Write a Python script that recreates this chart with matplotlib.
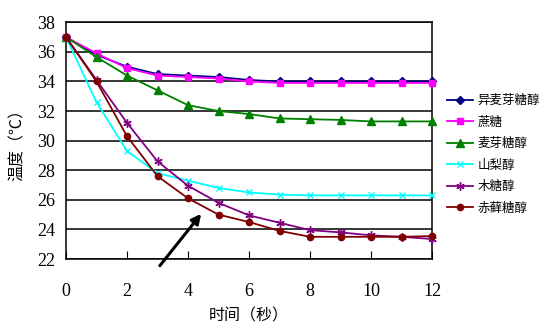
import numpy as np
import matplotlib.pyplot as plt

plt.rcParams['font.family'] = ['Liberation Serif', 'Noto Sans CJK SC']

# data
t = [0, 1, 2, 3, 4, 5, 6, 7, 8, 9, 10, 11, 12]
isomalt = [37, 35.8, 35.0, 34.5, 34.4, 34.3, 34.1, 34.0, 34.0, 34.0, 34.0, 34.0, 34.0]
sucrose = [37, 35.9, 34.9, 34.4, 34.3, 34.2, 34.0, 33.9, 33.9, 33.9, 33.9, 33.9, 33.9]
maltitol = [37, 35.65, 34.4, 33.4, 32.4, 32.0, 31.8, 31.5, 31.45, 31.4, 31.3, 31.3, 31.3]
sorbitol = [37, 32.6, 29.3, 27.8, 27.3, 26.8, 26.5, 26.35, 26.3, 26.3, 26.3, 26.3, 26.3]
xylitol = [37, 34.1, 31.2, 28.6, 26.95, 25.8, 24.95, 24.45, 23.95, 23.8, 23.6, 23.5, 23.35]
erythritol = [37, 34.0, 30.3, 27.6, 26.1, 25.0, 24.5, 23.9, 23.5, 23.5, 23.5, 23.5, 23.55]

names = ['异麦芽糖醇', '蔗糖', '麦芽糖醇', '山梨醇', '木糖醇', '赤藓糖醇']
series = [isomalt, sucrose, maltitol, sorbitol, xylitol, erythritol]
colors = ['#000080', '#FF00FF', '#008000', '#00FFFF', '#800080', '#800000']
markers = ['D', 's', '^', 'x', (6, 2, 0), 'o']
msizes = [4, 5, 5.5, 5, 6, 4.5]

fig = plt.figure(figsize=(5.48, 3.32), dpi=100)
ax = fig.add_axes([66/548, 1 - 259/332, (432 - 66)/548, (259 - 22.3)/332])

for y, name, c, m, ms in zip(series, names, colors, markers, msizes):
    ax.plot(t, y, color=c, marker=m, markersize=ms, lw=1.3, label=name,
            markeredgewidth=1.0, clip_on=False, zorder=3)

ax.set_xlim(0, 12)
ax.set_ylim(22, 38)
ax.set_xticks(range(0, 13, 2))
ax.set_yticks(range(22, 39, 2))
ax.yaxis.grid(True, color='black', lw=1.1)
ax.set_axisbelow(True)
for s in ax.spines.values():
    s.set_color('black')
    s.set_linewidth(1.1)
ax.tick_params(axis='x', direction='in', length=6, pad=17, labelsize=13)
ax.tick_params(axis='y', length=0, pad=8, labelsize=13)

ax.set_xlabel('时间（秒）', family=['Noto Sans CJK SC'], fontsize=11.5, labelpad=6)
ax.set_ylabel('温度（℃）', family=['Noto Sans CJK SC', 'DejaVu Sans'], fontsize=11.5, labelpad=8)

ax.annotate('', xy=(4.49, 25.2), xytext=(3.02, 21.4),
            arrowprops=dict(arrowstyle='-|>', color='black', lw=2.2, mutation_scale=14),
            annotation_clip=False)

fig.legend(loc='upper left', bbox_to_anchor=(447/548, 1 - 94/332), frameon=False,
           prop={'family': 'Noto Sans CJK SC', 'size': 9}, handlelength=2.1,
           handletextpad=0.35, labelspacing=0.68, borderpad=0, borderaxespad=0)

fig.savefig('out.png', dpi=100)
